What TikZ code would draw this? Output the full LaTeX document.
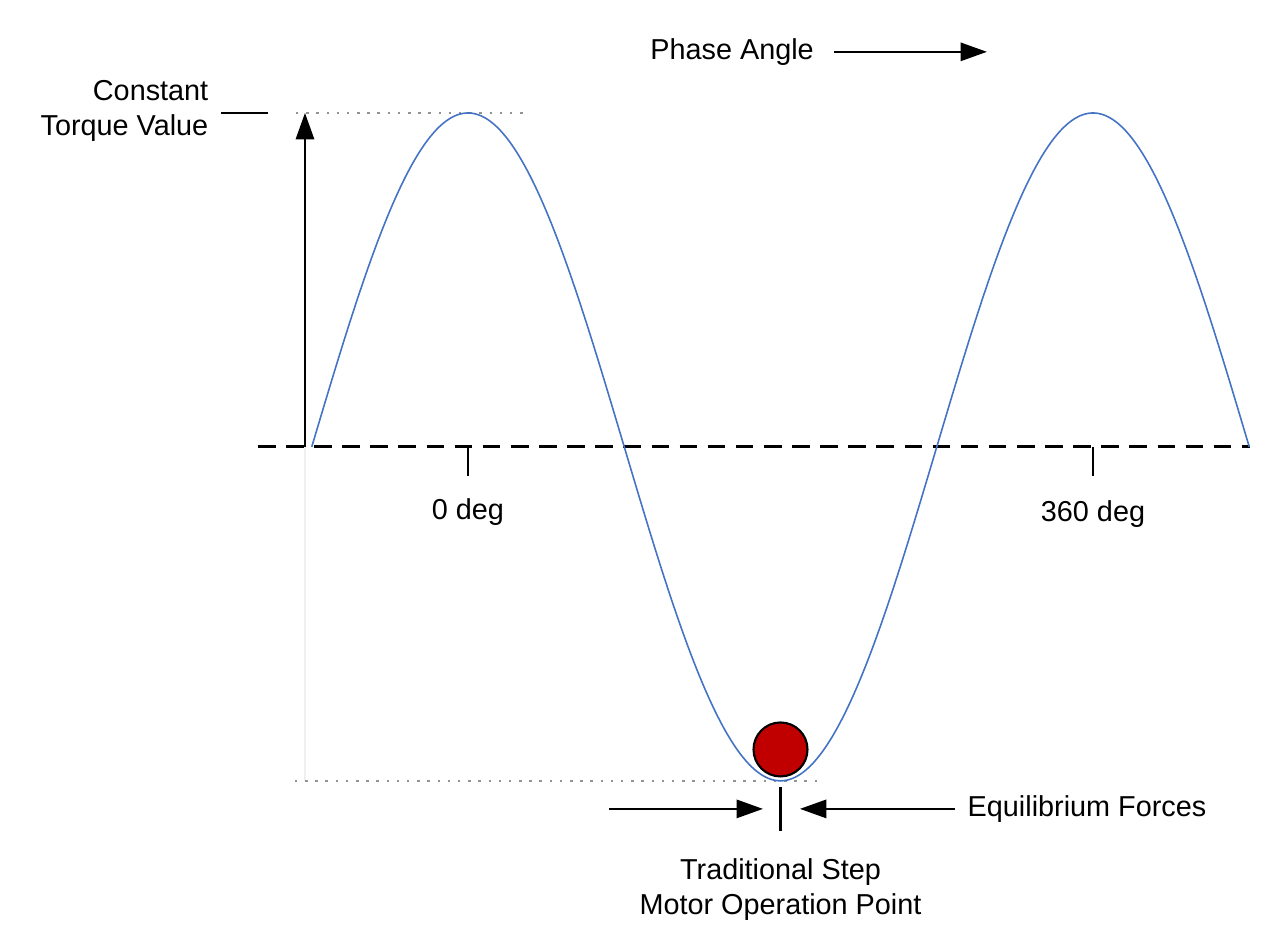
\documentclass[tikz,border=0pt]{standalone}
\usepackage{fontspec}
\setmainfont{Liberation Sans}
\usetikzlibrary{arrows.meta,positioning}
\definecolor{curveblue}{HTML}{4472C4}
\definecolor{ballred}{HTML}{C00000}

\begin{document}
\begin{tikzpicture}[x=0.017361cm,y=3.34cm,
      font=\fontsize{8.2}{10}\selectfont,
      arr/.style={line width=0.6pt,-{Triangle[length=7.5pt,width=5.2pt]}},
      guide/.style={gray!85,line width=0.7pt,dash pattern=on 0.7pt off 2.2pt},
      lbl/.style={inner sep=0pt}]
      \useasboundingbox (-269.57,1.3383) rectangle (467.71,-1.5090);

      % Faint reference line below the torque arrow
      \draw[gray!12, line width=0.5pt] (-93.9,0) -- (-93.9,-1);

      % Dotted guides at peak and trough
      \draw[guide] (-99.1,1) -- (34.6,1);
      \draw[guide] (-99.7,-1) -- (202.8,-1);

      % Zero axis
      \draw[line width=0.8pt, dash pattern=on 5pt off 3pt] (-121,0) -- (450.4,0);

      % Degree ticks
      \draw[line width=0.8pt] (0,0) -- (0,-0.087);
      \draw[line width=0.8pt] (360,0) -- (360,-0.087);
      \node[lbl] (zerodeg) at (0,-0.195) {0 deg};
      \node[lbl] (fulldeg) at (360,-0.2) {360 deg};

      % Torque curve
      \draw[curveblue, line width=0.45pt]
        plot[domain=-90:450, samples=200, smooth] (\x,{cos(\x)});

      % Constant torque value
      \coordinate (tqbase) at (-93.9,0);
      \coordinate (tqtop) at (-93.9,1);
      \draw[arr] (tqbase) -- (tqtop);
      \node[lbl, align=right, anchor=east] (torque) at (-149.2,1.007)
        {Constant\\Torque Value};
      \coordinate (leadL) at (-142.3,1);
      \coordinate (leadR) at (-115.2,1);
      \draw[line width=0.6pt] (leadL) -- (leadR);

      % Phase angle
      \node[inner xsep=0.2cm, inner ysep=0pt] (phase) at (152.1,1.183) {Phase Angle};
      \coordinate (phasetip) at (298.9,1.183);
      \draw[arr] (phase) -- (phasetip);

      % Operation point ball
      \node[circle, draw, fill=ballred, line width=0.6pt, minimum size=0.54cm,
        inner sep=0pt, anchor=south] (ball) at (180,-0.99) {};

      % Equilibrium forces
      \coordinate (opT) at (180,-1.018);
      \coordinate (opB) at (180,-1.150);
      \draw[line width=0.6pt] (opT) -- (opB);
      \coordinate (pushL) at (81.2,-1.084);
      \coordinate (pushR) at (169.9,-1.084);
      \draw[arr] (pushL) -- (pushR);
      \node[inner xsep=0.12cm, inner ysep=0pt, anchor=west] (equil) at (280.5,-1.084)
        {Equilibrium Forces};
      \coordinate (eqtip) at (191.2,-1.084);
      \draw[arr] (equil) -- (eqtip);

      % Labels
      \node[lbl, align=center] (opnote) at (180,-1.326)
        {Traditional Step\\Motor Operation Point};
    \end{tikzpicture}
\end{document}
